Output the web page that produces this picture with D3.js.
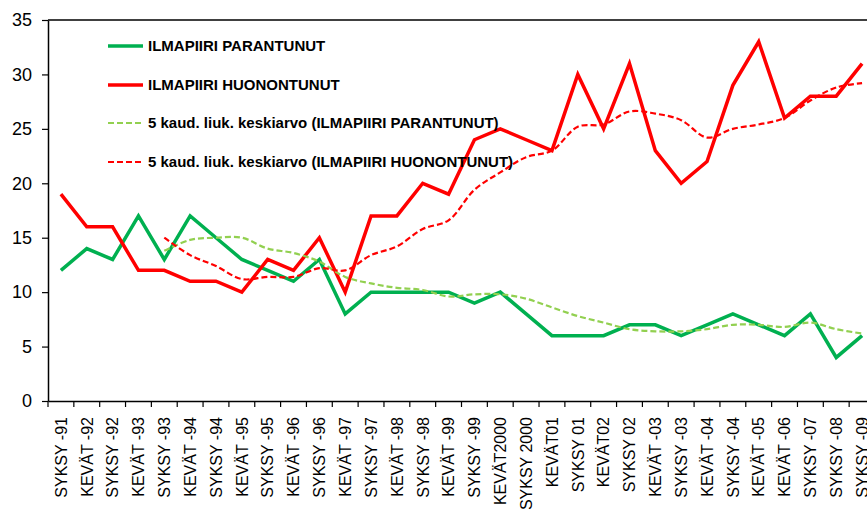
<!DOCTYPE html>
<html>
<head>
<meta charset="utf-8">
<script src="https://cdn.jsdelivr.net/npm/d3@7"></script>
<style>
  body { margin: 0; background: #fff; }
  svg { display: block; font-family: "Liberation Sans", Arial, sans-serif; }
</style>
</head>
<body>
<div id="chart"></div>
<script>
// kaudet (x-akseli)
var seasons = ["SYKSY -91","KEVÄT -92","SYKSY -92","KEVÄT -93","SYKSY -93","KEVÄT -94","SYKSY -94","KEVÄT -95",
               "SYKSY -95","KEVÄT -96","SYKSY -96","KEVÄT -97","SYKSY -97","KEVÄT -98","SYKSY -98","KEVÄT -99",
               "SYKSY -99","KEVÄT2000","SYKSY 2000","KEVÄT01","SYKSY 01","KEVÄT02","SYKSY 02","KEVÄT -03",
               "SYKSY -03","KEVÄT -04","SYKSY -04","KEVÄT -05","KEVÄT -06","SYKSY -07","SYKSY -08","SYKSY -09"];

var parantunut = [12,14,13,17,13,17,15,13,12,11,13,8,10,10,10,10,9,10,8,6,6,6,7,7,6,7,8,7,6,8,4,6];
var huonontunut = [19,16,16,12,12,11,11,10,13,12,15,10,17,17,20,19,24,25,24,23,30,25,31,23,20,22,29,33,26,28,28,31];

var parantunutMA = [null,null,null,null,13.8,14.8,15,15,14,13.6,12.8,11.4,10.8,10.4,10.2,9.6,
                    9.8,9.8,9.4,8.6,7.8,7.2,6.6,6.4,6.4,6.6,7,7,6.8,7.2,6.6,6.2];
var huonontunutMA = [null,null,null,null,15,13.4,12.4,11.2,11.4,11.4,12.2,12,13.4,14.2,15.8,16.6,
                     19.4,21,22.4,23,25.2,25.4,26.6,26.4,25.8,24.2,25,25.4,26,27.6,28.8,29.2];

var yTicks = [0,5,10,15,20,25,30,35];

var seriesNames = ["ILMAPIIRI PARANTUNUT","ILMAPIIRI HUONONTUNUT",
                   "5 kaud. liuk. keskiarvo (ILMAPIIRI PARANTUNUT)",
                   "5 kaud. liuk. keskiarvo (ILMAPIIRI HUONONTUNUT)"];

var width = 867, height = 510;
var plotLeft = 48, plotRight = 875, plotTop = 20, plotBottom = 401;

var svg = d3.select("#chart").append("svg")
    .attr("width", width)
    .attr("height", height);

var x = d3.scaleBand().domain(seasons).range([plotLeft, plotRight]).padding(0);
var y = d3.scaleLinear().domain([0, 35]).range([plotBottom, plotTop]);

function cx(i) { return x(seasons[i]) + x.bandwidth() / 2; }

// akselit
var xAxis = svg.append("g")
    .attr("transform", "translate(0," + plotBottom + ")")
    .call(d3.axisBottom(x).tickSize(0).tickSizeOuter(0).tickPadding(0));
xAxis.select(".domain").attr("stroke", "#000").attr("stroke-width", 1.5);
xAxis.selectAll(".tick text")
    .attr("transform", "rotate(-90)")
    .attr("x", -16)
    .attr("y", 0)
    .attr("dy", "0.36em")
    .style("text-anchor", "end")
    .style("font-size", "16px")
    .attr("fill", "#000");

// tikit kategorioiden välissä
svg.append("g").selectAll("line")
    .data(seasons)
    .enter().append("line")
    .attr("x1", function(d) { return x(d); })
    .attr("x2", function(d) { return x(d); })
    .attr("y1", plotBottom)
    .attr("y2", plotBottom + 6)
    .attr("stroke", "#000")
    .attr("stroke-width", 1.2);

var yAxis = svg.append("g")
    .attr("transform", "translate(" + plotLeft + ",0)")
    .call(d3.axisLeft(y).tickValues(yTicks).tickSize(6).tickSizeOuter(0).tickPadding(10));
yAxis.select(".domain").attr("stroke", "#000").attr("stroke-width", 1.5);
yAxis.selectAll(".tick line").attr("stroke", "#000").attr("stroke-width", 1.2);
yAxis.selectAll(".tick text").style("font-size", "18px").attr("fill", "#000");

// yläreuna
svg.append("line")
    .attr("x1", plotLeft).attr("x2", plotRight)
    .attr("y1", y(35)).attr("y2", y(35))
    .attr("stroke", "#000").attr("stroke-width", 1.5);

var solid = d3.line()
    .x(function(d, i) { return cx(i); })
    .y(function(d) { return y(d); });

var smooth = d3.line()
    .defined(function(d) { return d != null; })
    .x(function(d, i) { return cx(i); })
    .y(function(d) { return y(d); })
    .curve(d3.curveCatmullRom.alpha(0.5));

var series = [
    {data: parantunut, color: "#00b050", w: 3.5, dash: null, gen: solid},
    {data: huonontunut, color: "#ff0000", w: 3.5, dash: null, gen: solid},
    {data: parantunutMA, color: "#92d050", w: 2.2, dash: "6,3", gen: smooth},
    {data: huonontunutMA, color: "#ff0000", w: 2.2, dash: "6,3", gen: smooth}
];

series.forEach(function(s) {
    svg.append("path")
        .datum(s.data)
        .attr("fill", "none")
        .attr("stroke", s.color)
        .attr("stroke-width", s.w)
        .attr("stroke-linejoin", "miter")
        .attr("stroke-dasharray", s.dash)
        .attr("d", s.gen);
});

// selite
var legendY = [46, 85, 123, 162];
var legend = svg.append("g");
series.forEach(function(s, i) {
    legend.append("line")
        .attr("x1", 108).attr("x2", 143)
        .attr("y1", legendY[i]).attr("y2", legendY[i])
        .attr("stroke", s.color)
        .attr("stroke-width", s.w)
        .attr("stroke-dasharray", s.dash);
    legend.append("text")
        .attr("x", 148)
        .attr("y", legendY[i])
        .attr("dy", "0.36em")
        .style("font-size", "15px")
        .style("font-weight", "bold")
        .attr("fill", "#000")
        .text(seriesNames[i]);
});
</script>
</body>
</html>
